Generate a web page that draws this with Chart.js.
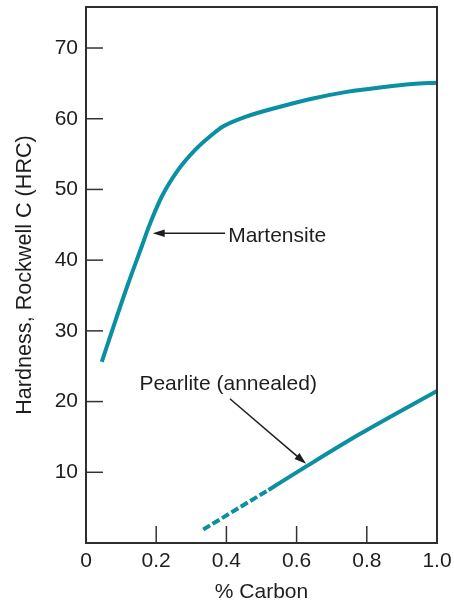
<!DOCTYPE html>
<html><head><meta charset="utf-8">
<script src="https://cdn.jsdelivr.net/npm/chart.js@4"></script>
<style>html,body{margin:0;padding:0;background:#fff}#wrap{width:454px;height:603px}</style>
</head><body><div id="wrap"><canvas id="c" width="454" height="603"></canvas></div>
<script>
// ---- data ----
const martensiteCarbon = [0.045, 0.083, 0.121, 0.16, 0.178, 0.216, 0.263, 0.311, 0.358, 0.39, 0.45, 0.553, 0.65, 0.743, 0.85, 0.93, 1.0];
const martensiteHRC    = [25.6, 31.3, 36.8, 42.1, 44.6, 49.0, 52.8, 55.6, 57.7, 58.9, 60.2, 61.7, 62.9, 63.8, 64.5, 64.9, 65.1];
const pearliteDashedCarbon = [0.334, 0.43, 0.52];
const pearliteDashedHRC    = [1.9, 4.8, 7.5];
const pearliteCarbon = [0.52, 0.63, 0.78, 1.0];
const pearliteHRC    = [7.5, 10.9, 15.4, 21.5];
const xTickValues = [0, 0.2, 0.4, 0.6, 0.8, 1.0];
const xTickLabels = ['0', '0.2', '0.4', '0.6', '0.8', '1.0'];
const yTickValues = [10, 20, 30, 40, 50, 60, 70];
const yTickLabels = ['10', '20', '30', '40', '50', '60', '70'];
const xTitle = '% Carbon';
const yTitle = 'Hardness, Rockwell C (HRC)';
const martensiteNote = 'Martensite';
const pearliteNote = 'Pearlite (annealed)';

const FONT = "'Liberation Sans', Arial, sans-serif";
const TEAL = '#0a8fa3';
const INK = '#1e1e1e';

const pts = (xs, ys) => xs.map((v, i) => ({x: v, y: ys[i]}));

const decor = {
  id: 'decor',
  afterDatasetsDraw(chart) {
    const {ctx, chartArea: a, scales: {x, y}} = chart;
    ctx.save();
    // inward tick marks
    ctx.strokeStyle = '#333';
    ctx.lineWidth = 1.5;
    yTickValues.forEach(v => {
      const py = y.getPixelForValue(v);
      ctx.beginPath(); ctx.moveTo(a.left, py); ctx.lineTo(a.left + 17, py); ctx.stroke();
    });
    xTickValues.slice(1, -1).forEach(v => {
      const px = x.getPixelForValue(v);
      ctx.beginPath(); ctx.moveTo(px, a.bottom); ctx.lineTo(px, a.bottom - 17); ctx.stroke();
    });
    // frame
    ctx.lineWidth = 2;
    ctx.strokeStyle = '#2e2e2e';
    ctx.strokeRect(a.left, a.top, a.right - a.left, a.bottom - a.top);

    // annotations
    const arrow = (x1, y1, x2, y2) => {
      const X1 = x.getPixelForValue(x1), Y1 = y.getPixelForValue(y1);
      const X2 = x.getPixelForValue(x2), Y2 = y.getPixelForValue(y2);
      const ang = Math.atan2(Y2 - Y1, X2 - X1);
      const L = 12, W = 3.8;
      ctx.strokeStyle = INK; ctx.fillStyle = INK; ctx.lineWidth = 1.5;
      ctx.beginPath(); ctx.moveTo(X1, Y1);
      ctx.lineTo(X2 - Math.cos(ang) * L * 0.8, Y2 - Math.sin(ang) * L * 0.8); ctx.stroke();
      ctx.beginPath();
      ctx.moveTo(X2, Y2);
      ctx.lineTo(X2 - Math.cos(ang) * L + Math.sin(ang) * W, Y2 - Math.sin(ang) * L - Math.cos(ang) * W);
      ctx.lineTo(X2 - Math.cos(ang) * L - Math.sin(ang) * W, Y2 - Math.sin(ang) * L + Math.cos(ang) * W);
      ctx.closePath(); ctx.fill();
    };
    ctx.font = '21px ' + FONT;
    ctx.fillStyle = INK;
    ctx.textBaseline = 'middle';
    ctx.textAlign = 'left';
    ctx.fillText(martensiteNote, x.getPixelForValue(0.405), y.getPixelForValue(43.4));
    arrow(0.396, 43.8, 0.19, 43.8);
    ctx.textAlign = 'center';
    ctx.fillStyle = INK;
    ctx.fillText(pearliteNote, x.getPixelForValue(0.405), y.getPixelForValue(22.5));
    arrow(0.41, 20.4, 0.627, 11.2);
    ctx.restore();
  }
};

new Chart(document.getElementById('c'), {
  type: 'line',
  data: {
    datasets: [
      {label: 'Martensite', data: pts(martensiteCarbon, martensiteHRC), borderColor: TEAL, borderWidth: 4,
       pointRadius: 0, cubicInterpolationMode: 'monotone', fill: false},
      {label: 'Pearlite (estimated)', data: pts(pearliteDashedCarbon, pearliteDashedHRC), borderColor: TEAL, borderWidth: 4,
       borderDash: [8, 3], borderCapStyle: 'butt', pointRadius: 0, cubicInterpolationMode: 'monotone', fill: false},
      {label: 'Pearlite (annealed)', data: pts(pearliteCarbon, pearliteHRC), borderColor: TEAL, borderWidth: 4,
       pointRadius: 0, cubicInterpolationMode: 'monotone', fill: false}
    ]
  },
  options: {
    responsive: false, animation: false, devicePixelRatio: 1,
    layout: {padding: {top: 7, right: 17, left: 0, bottom: 0}},
    plugins: {legend: {display: false}, tooltip: {enabled: false}},
    scales: {
      x: {
        type: 'linear', min: 0, max: 1,
        afterBuildTicks: s => { s.ticks = xTickValues.map(v => ({value: v})); },
        afterFit: s => { s.height = 60; s.paddingLeft = 0; s.paddingRight = 0; },
        grid: {display: false, drawTicks: false}, border: {display: false},
        ticks: {callback: (v, i) => xTickLabels[i], color: INK, font: {family: FONT, size: 21}, padding: 6,
                maxRotation: 0, autoSkip: false},
        title: {display: true, text: xTitle, color: INK, font: {family: FONT, size: 21, lineHeight: 1.2},
                padding: {top: 0, bottom: -2}}
      },
      y: {
        type: 'linear', min: 0, max: 75.8,
        afterBuildTicks: s => { s.ticks = yTickValues.map(v => ({value: v})); },
        afterFit: s => { s.width = 86; s.paddingTop = 0; s.paddingBottom = 0; },
        grid: {display: false, drawTicks: false}, border: {display: false},
        ticks: {callback: (v, i) => yTickLabels[i], color: INK, font: {family: FONT, size: 21}, padding: 8,
                autoSkip: false},
        title: {display: true, text: yTitle, color: INK, font: {family: FONT, size: 21.6, lineHeight: 1.2},
                padding: {top: 12, bottom: 0}}
      }
    }
  },
  plugins: [decor]
});
</script></body></html>
